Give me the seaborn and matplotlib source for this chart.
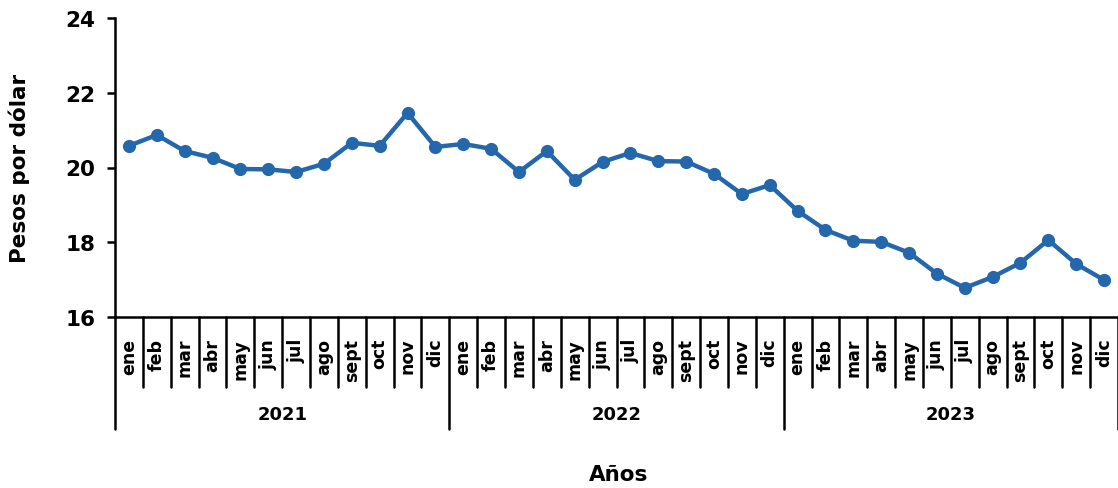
import pandas as pd
import seaborn as sns
import matplotlib.pyplot as plt
import numpy as np

# Datos: tipo de cambio mensual (pesos por dólar)
months = ["ene", "feb", "mar", "abr", "may", "jun", "jul", "ago", "sept", "oct", "nov", "dic"]
years = ["2021", "2022", "2023"]
vals_2021 = [20.58, 20.87, 20.44, 20.26, 19.96, 19.95, 19.88, 20.10, 20.66, 20.58, 21.46, 20.55]
vals_2022 = [20.63, 20.50, 19.88, 20.44, 19.67, 20.15, 20.39, 20.17, 20.16, 19.83, 19.29, 19.53]
vals_2023 = [18.84, 18.33, 18.04, 18.01, 17.72, 17.16, 16.78, 17.07, 17.45, 18.06, 17.42, 16.99]

values = vals_2021 + vals_2022 + vals_2023
df = pd.DataFrame({
    "pos": np.arange(len(values)),
    "mes": months * len(years),
    "anio": np.repeat(years, len(months)),
    "valor": values,
})

sns.set_style("white")
plt.rcParams["font.family"] = ["DejaVu Sans"]
plt.rcParams["font.weight"] = "bold"
plt.rcParams["text.color"] = "black"
plt.rcParams["axes.labelcolor"] = "black"
plt.rcParams["xtick.color"] = "black"
plt.rcParams["ytick.color"] = "black"

fig = plt.figure(figsize=(11.18, 4.89), dpi=100)
ax = fig.add_axes([115 / 1118, 1 - 318 / 489, 1003 / 1118, 299 / 489])

blue = "#2467ab"
sns.lineplot(data=df, x="pos", y="valor", ax=ax, color=blue, linewidth=3.2,
             marker="o", markersize=9.5, markeredgewidth=0)

ax.set_ylim(16, 24)
ax.set_yticks([16, 18, 20, 22, 24])
ax.set_xlim(-0.5, len(values) - 0.5)

for s in ["top", "right"]:
    ax.spines[s].set_visible(False)
for s in ["left", "bottom"]:
    ax.spines[s].set_linewidth(1.8)
    ax.spines[s].set_color("black")

ax.tick_params(axis="y", direction="out", length=6, width=1.8, labelsize=15.5, pad=8, left=True)
for t in ax.get_yticklabels():
    t.set_fontweight("bold")

# etiquetas de meses
ax.set_xticks(df["pos"])
ax.set_xticklabels(df["mes"], rotation=90, fontsize=12.5, fontweight="bold", va="top")
ax.tick_params(axis="x", length=0, pad=15)

# separadores de categorías
tr = ax.get_xaxis_transform()
n = len(values)
for k in range(n + 1):
    b = k - 0.5
    low = -0.375 if k % 12 == 0 else -0.234
    ax.plot([b, b], [0, low], color="black", lw=1.8, transform=tr, clip_on=False)

# etiquetas de años
for i, y in enumerate(years):
    ax.text(i * 12 + 5.5, -0.325, y, transform=tr, ha="center", va="center",
            fontsize=13, fontweight="bold")

ax.set_xlabel("Años", fontsize=15.5, fontweight="bold", va="center")
ax.xaxis.set_label_coords(0.502, -0.525)
ax.set_ylabel("Pesos por dólar", fontsize=15.5, fontweight="bold", va="center")
ax.yaxis.set_label_coords(-0.095, 0.5)

fig.savefig("out.png", dpi=100)
